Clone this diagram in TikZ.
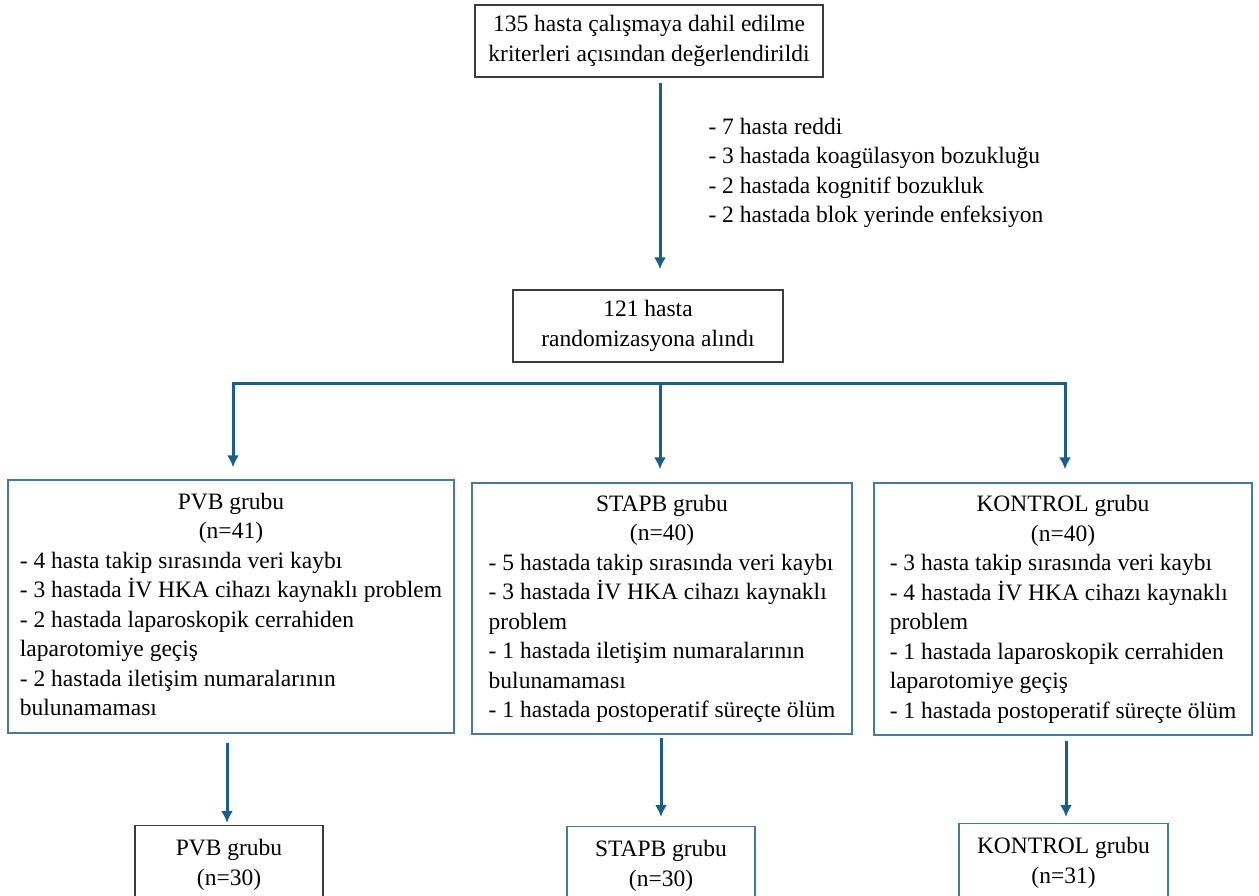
\documentclass[tikz,border=0pt]{standalone}
\usepackage{fontspec}
\setmainfont{Liberation Serif}
\usetikzlibrary{arrows.meta}
\definecolor{arrowblue}{RGB}{28,94,134}
\definecolor{boxblue}{RGB}{70,120,160}
\definecolor{boxgray}{RGB}{60,60,60}

\begin{document}
\begin{tikzpicture}[x=1pt,y=-1pt,>={Latex[length=12pt,width=12pt]},
  font=\fontsize{23.5}{29.5}\selectfont,
  box/.style={draw=boxgray,line width=1.3pt,inner sep=0pt,align=center},
  grp/.style={box,draw=boxblue},
  arr/.style={->,draw=arrowblue,fill=arrowblue,line width=3pt},
  link/.style={draw=arrowblue,line width=3pt,line cap=rect}]

\useasboundingbox (0,0) rectangle (1259,895);

\node (screen) at (649,41) [box, minimum width=348pt, minimum height=72pt] {135 hasta çalışmaya dahil edilme\\kriterleri açısından değerlendirildi};

\node (rand) at (648,326) [box, minimum width=270pt, minimum height=72pt] {121 hasta\\randomizasyona alındı};

\node (excl) at (705,173) [anchor=west, align=left] {- 7 hasta reddi\\- 3 hastada koagülasyon bozukluğu\\- 2 hastada kognitif bozukluk\\- 2 hastada blok yerinde enfeksiyon};

% groups after randomisation
\node (pvb) at (231,606.5) [grp, minimum width=446pt, minimum height=253pt] {\begin{tabular}{@{}l@{}}
\multicolumn{1}{@{}c@{}}{PVB grubu}\\
\multicolumn{1}{@{}c@{}}{(n=41)}\\
- 4 hasta takip sırasında veri kaybı\\
- 3 hastada İV HKA cihazı kaynaklı problem\\
- 2 hastada laparoskopik cerrahiden\\
laparotomiye geçiş\\
- 2 hastada iletişim numaralarının\\
bulunamaması
\end{tabular}};

\node (stapb) at (662,608.5) [grp, minimum width=380pt, minimum height=251pt] {\begin{tabular}{@{}l@{}}
\multicolumn{1}{@{}c@{}}{STAPB grubu}\\
\multicolumn{1}{@{}c@{}}{(n=40)}\\
- 5 hastada takip sırasında veri kaybı\\
- 3 hastada İV HKA cihazı kaynaklı\\
problem\\
- 1 hastada iletişim numaralarının\\
bulunamaması\\
- 1 hastada postoperatif süreçte ölüm
\end{tabular}};

\node (kontrol) at (1063,609) [grp, minimum width=378pt, minimum height=252pt] {\begin{tabular}{@{}l@{}}
\multicolumn{1}{@{}c@{}}{KONTROL grubu}\\
\multicolumn{1}{@{}c@{}}{(n=40)}\\
- 3 hasta takip sırasında veri kaybı\\
- 4 hastada İV HKA cihazı kaynaklı\\
problem\\
- 1 hastada laparoskopik cerrahiden\\
laparotomiye geçiş\\
- 1 hastada postoperatif süreçte ölüm
\end{tabular}};

% final groups, cut off at the bottom edge
\node (pvbend) at (229,825) [box, anchor=north, minimum width=188pt, minimum height=103pt] {PVB grubu\\(n=30)\\\mbox{}};
\node (stapbend) at (661,826) [grp, anchor=north, minimum width=188pt, minimum height=103pt] {STAPB grubu\\(n=30)\\\mbox{}};
\node (kontrolend) at (1063.5,823) [grp, anchor=north, minimum width=209pt, minimum height=103pt] {KONTROL grubu\\(n=31)\\\mbox{}};

\coordinate (splitl) at (233,383);
\coordinate (splitm) at (660,383);
\coordinate (splitr) at (1065,383);

\draw [arr, shorten <=5pt, shorten >=20pt] ([xshift=11pt]screen.south) -- ([xshift=11pt]screen.south |- rand.north);

\draw [link] (splitl) -- (splitr);
\draw [arr, shorten >=12pt] (splitl) -- (splitl |- pvb.north);
\draw [arr, shorten >=13pt] (splitm) -- (splitm |- stapb.north);
\draw [arr, shorten >=13pt] (splitr) -- (splitr |- kontrol.north);

\draw [arr, shorten <=9pt, shorten >=2pt] ([xshift=-4pt]pvb.south) -- ([xshift=-4pt]pvb.south |- pvbend.north);
\draw [arr, shorten <=3pt, shorten >=9pt] ([xshift=-1pt]stapb.south) -- ([xshift=-1pt]stapb.south |- stapbend.north);
\draw [arr, shorten <=5pt, shorten >=6pt] ([xshift=3pt]kontrol.south) -- ([xshift=3pt]kontrol.south |- kontrolend.north);

\end{tikzpicture}
\end{document}
